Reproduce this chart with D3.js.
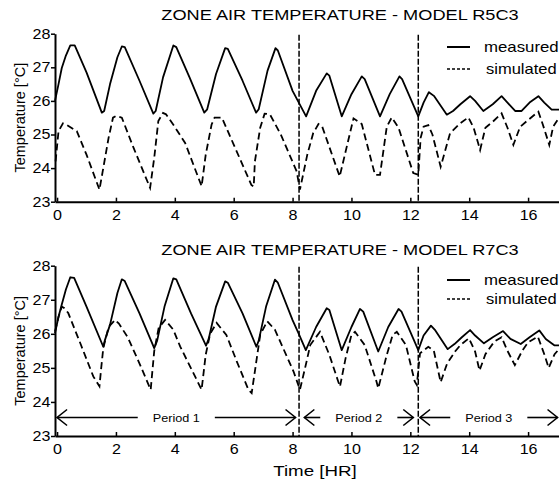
<!DOCTYPE html>
<html><head><meta charset="utf-8">
<script src="https://cdn.jsdelivr.net/npm/d3@7"></script>
<style>
html,body{margin:0;padding:0;background:#fff;}
svg{display:block;font-family:"Liberation Sans",Arial,sans-serif;}
</style></head>
<body>
<svg id="chart" width="559" height="481"></svg>
<script>
// ---------------- DATA ----------------
const xTicks = [0, 2, 4, 6, 8, 10, 12, 14, 16];
const yTicks = [23, 24, 25, 26, 27, 28];
const periodBoundaries = [8.22, 12.27];
const titles = ["ZONE AIR TEMPERATURE - MODEL R5C3", "ZONE AIR TEMPERATURE - MODEL R7C3"];
const seriesNames = ["measured", "simulated"];
const periodLabels = ["Period 1", "Period 2", "Period 3"];
const periodStart = [0.0, 8.4, 12.33];
const periodEnd = [8.1, 12.1, 17.0];

// [time (hr), temperature (°C)]
const r5c3Measured = [
 [-0.07,26.0],[0.05,26.5],[0.16,26.98],[0.3,27.35],[0.45,27.65],[0.6,27.65],[1.0,26.85],[1.52,25.65],
 [1.6,25.7],[1.8,26.5],[2.05,27.3],[2.2,27.62],[2.3,27.6],[2.8,26.6],[3.27,25.62],[3.35,25.7],
 [3.6,26.7],[3.95,27.65],[4.05,27.6],[4.5,26.7],[5.0,25.65],[5.1,25.75],[5.4,26.8],[5.71,27.57],
 [5.8,27.55],[6.3,26.6],[6.76,25.65],[6.85,25.75],[7.15,26.9],[7.42,27.57],[7.5,27.5],[8.0,26.3],
 [8.46,25.54],[8.8,26.3],[9.16,26.82],[9.25,26.75],[9.67,25.54],[10.0,26.2],[10.35,26.73],[10.45,26.65],
 [10.97,25.54],[11.3,26.2],[11.63,26.73],[11.72,26.65],[12.27,25.54],[12.45,25.95],[12.63,26.26],[12.8,26.15],
 [13.24,25.59],[13.45,25.7],[13.7,25.9],[14.03,26.14],[14.2,26.0],[14.48,25.7],[14.8,25.9],[15.1,26.14],
 [15.3,25.95],[15.56,25.7],[15.78,25.7],[16.05,25.95],[16.35,26.14],[16.55,25.95],[16.8,25.74],[17.05,25.74]
];
const r5c3Simulated = [
 [-0.05,24.2],[0.05,25.1],[0.2,25.33],[0.3,25.3],[0.67,25.1],[1.0,24.4],[1.44,23.36],[1.55,23.9],
 [1.75,24.9],[1.9,25.5],[2.0,25.55],[2.2,25.5],[2.6,24.6],[3.16,23.41],[3.3,24.3],[3.44,25.4],
 [3.6,25.64],[3.7,25.6],[3.95,25.29],[4.35,24.75],[4.91,23.46],[5.05,24.4],[5.25,25.3],[5.35,25.5],
 [5.6,25.5],[6.0,24.7],[6.6,23.5],[6.68,23.45],[6.72,24.2],[6.9,25.2],[7.05,25.62],[7.23,25.6],
 [7.6,25.0],[8.14,23.9],[8.25,23.36],[8.5,24.4],[8.7,25.04],[8.88,25.31],[9.0,25.25],[9.6,23.75],
 [9.95,25.04],[10.07,25.48],[10.35,25.31],[10.8,23.8],[10.97,23.8],[11.2,25.23],[11.37,25.51],[11.6,25.2],
 [12.1,23.85],[12.27,23.8],[12.35,24.9],[12.45,25.23],[12.61,25.28],[12.75,25.0],[13.03,24.04],[13.35,25.04],
 [13.69,25.33],[13.97,25.51],[14.15,25.2],[14.37,24.54],[14.55,25.2],[14.8,25.38],[15.1,25.63],[15.3,25.2],
 [15.5,24.69],[15.73,25.23],[16.0,25.43],[16.35,25.68],[16.5,25.3],[16.72,24.69],[16.85,25.23],[17.05,25.5]
];
const r7c3Measured = [
 [-0.07,26.02],[0.05,26.5],[0.16,26.86],[0.3,27.3],[0.45,27.66],[0.58,27.64],[1.0,26.8],[1.57,25.62],
 [1.62,25.8],[1.8,26.27],[2.05,27.2],[2.2,27.6],[2.3,27.55],[2.8,26.6],[3.3,25.58],[3.4,25.8],
 [3.65,26.8],[3.95,27.63],[4.05,27.6],[4.55,26.6],[5.06,25.65],[5.15,25.85],[5.4,26.8],[5.71,27.54],
 [5.8,27.5],[6.3,26.6],[6.77,25.62],[6.85,25.8],[7.1,26.8],[7.4,27.59],[7.5,27.5],[8.0,26.4],
 [8.2,26.02],[8.45,25.52],[8.8,26.2],[9.16,26.75],[9.25,26.7],[9.67,25.52],[10.0,26.2],[10.29,26.73],
 [10.4,26.65],[10.91,25.48],[11.25,26.2],[11.6,26.73],[11.7,26.65],[12.27,25.52],[12.45,25.95],[12.7,26.24],
 [12.85,26.1],[13.27,25.55],[13.5,25.7],[13.75,25.9],[14.03,26.11],[14.2,25.95],[14.5,25.72],[14.8,25.9],
 [15.15,26.08],[15.4,25.85],[15.75,25.7],[16.05,25.9],[16.38,26.1],[16.6,25.85],[16.9,25.66],[17.05,25.66]
];
const r7c3Simulated = [
 [-0.07,26.07],[0.05,26.5],[0.16,26.8],[0.25,26.75],[0.38,26.61],[0.8,25.7],[1.23,24.75],[1.44,24.46],
 [1.5,25.0],[1.57,25.58],[1.75,26.2],[1.97,26.41],[2.1,26.3],[2.4,25.9],[2.82,25.09],[3.18,24.36],
 [3.3,25.49],[3.45,26.17],[3.67,26.41],[3.95,26.12],[4.18,25.63],[4.6,24.9],[4.91,24.36],[5.05,25.39],
 [5.2,26.0],[5.42,26.32],[5.75,25.97],[6.1,25.2],[6.5,24.36],[6.61,24.26],[6.72,24.9],[6.9,25.97],
 [7.14,26.37],[7.4,26.12],[8.03,24.9],[8.25,24.36],[8.45,25.09],[8.6,25.67],[8.93,26.06],[9.25,25.38],
 [9.55,24.6],[9.61,24.45],[9.8,25.28],[10.0,25.97],[10.12,26.06],[10.45,25.67],[10.85,24.6],[10.91,24.4],
 [11.2,25.38],[11.4,25.97],[11.54,26.06],[11.85,25.67],[12.15,24.6],[12.22,24.5],[12.33,25.43],[12.61,25.62],
 [12.8,25.5],[13.03,24.58],[13.25,25.13],[13.52,25.48],[13.7,25.67],[13.99,25.87],[14.2,25.48],[14.35,24.92],
 [14.55,25.4],[14.85,25.77],[15.1,25.9],[15.3,25.5],[15.55,25.08],[15.8,25.5],[16.0,25.75],[16.33,25.92],
 [16.55,25.4],[16.7,25.0],[16.9,25.4],[17.05,25.55]
];

// ---------------- DRAW ----------------
const svg = d3.select("#chart");
const SX = 1.2; // horizontal stretch of the glyphs in the reference
const x = d3.scaleLinear().domain([-0.07, 17.05]).range([55, 559]);

const panels = [
  {title: titles[0], meas: r5c3Measured, sim: r5c3Simulated, top: 33.7, bottom: 201.7, titleY: 20, legY: [47, 69], periods: false},
  {title: titles[1], meas: r7c3Measured, sim: r7c3Simulated, top: 265.7, bottom: 436, titleY: 255, legY: [280, 299], periods: true}
];

function stext(g, px, py, s, size, anchor, sx) {
  return g.append("text")
    .attr("transform", `translate(${px},${py}) scale(${sx || SX},1)`)
    .attr("text-anchor", anchor || "start")
    .attr("font-size", size)
    .attr("fill", "#000")
    .text(s);
}

panels.forEach(p => {
  const y = d3.scaleLinear().domain([23, 28]).range([p.bottom, p.top]);
  const g = svg.append("g");

  // title
  stext(g, 340, p.titleY, p.title, 14, "middle", 1.3);

  // vertical period boundaries
  g.selectAll("line.vb").data(periodBoundaries).enter().append("line")
    .attr("x1", d => x(d)).attr("x2", d => x(d))
    .attr("y1", y(28) + 1).attr("y2", y(23))
    .attr("stroke", "#000").attr("stroke-width", 1.5).attr("stroke-dasharray", "6,2");

  const line = d3.line().x(d => x(d[0])).y(d => y(d[1]));
  g.append("path").datum(p.meas).attr("d", line)
    .attr("fill", "none").attr("stroke", "#000").attr("stroke-width", 1.8).attr("stroke-linejoin", "round");
  g.append("path").datum(p.sim).attr("d", line)
    .attr("fill", "none").attr("stroke", "#000").attr("stroke-width", 1.8).attr("stroke-dasharray", "7,4");

  // y axis
  const ya = g.append("g").attr("transform", `translate(${x.range()[0]},0)`)
    .call(d3.axisLeft(y).tickValues(yTicks).tickSizeInner(4).tickSizeOuter(0).tickPadding(1).tickFormat(d3.format("d")));
  ya.select(".domain").attr("stroke-width", 2);
  ya.selectAll(".tick line").attr("stroke-width", 1.5);
  ya.selectAll(".tick text").attr("font-size", 14).attr("font-family", "Liberation Sans, Arial, sans-serif")
    .attr("x", -4).attr("transform", "scale(1.15,1)");

  // x axis
  const xa = g.append("g").attr("transform", `translate(0,${p.bottom})`)
    .call(d3.axisBottom(x).tickValues(xTicks).tickSizeInner(-4).tickSizeOuter(0).tickPadding(8).tickFormat(d3.format("d")));
  xa.select(".domain").attr("stroke-width", 2);
  xa.selectAll(".tick line").attr("stroke-width", 1.5);
  xa.selectAll(".tick text").attr("font-size", 14).attr("font-family", "Liberation Sans, Arial, sans-serif")
    .attr("transform", "scale(1.15,1)");

  // y label
  g.append("text")
    .attr("transform", `translate(25,${(p.top + p.bottom) / 2}) rotate(-90)`)
    .attr("text-anchor", "middle").attr("font-size", 14.5).text("Temperature [°C]");

  // legend
  const lx0 = 447, lx1 = 470, tx = 484;
  g.append("line").attr("x1", lx0).attr("x2", lx1).attr("y1", p.legY[0]).attr("y2", p.legY[0])
    .attr("stroke", "#000").attr("stroke-width", 2);
  stext(g, tx, p.legY[0] + 5, seriesNames[0], 14, "start", 1.2);
  g.append("line").attr("x1", lx0).attr("x2", lx1).attr("y1", p.legY[1]).attr("y2", p.legY[1])
    .attr("stroke", "#000").attr("stroke-width", 1.6).attr("stroke-dasharray", "3,2");
  stext(g, tx + 2, p.legY[1] + 5, seriesNames[1], 14, "start", 1.18);

  // period arrows
  if (p.periods) {
    const ay = 417.5;
    periodLabels.forEach((lab, i) => {
      const a = x(periodStart[i]), b = x(periodEnd[i]);
      const mid = (a + b) / 2;
      const t = stext(g, mid, ay + 4, lab, 11, "middle", 1.15);
      const w = t.node().getComputedTextLength() * 1.15;
      const gap = w / 2 + 15;
      g.append("line").attr("x1", a).attr("x2", mid - gap).attr("y1", ay).attr("y2", ay)
        .attr("stroke", "#000").attr("stroke-width", 1.6);
      g.append("line").attr("x1", mid + gap).attr("x2", b).attr("y1", ay).attr("y2", ay)
        .attr("stroke", "#000").attr("stroke-width", 1.6);
      g.append("path").attr("d", `M${a + 10},${ay - 8}L${a},${ay}L${a + 10},${ay + 8}`)
        .attr("fill", "none").attr("stroke", "#000").attr("stroke-width", 1.6);
      g.append("path").attr("d", `M${b - 10},${ay - 8}L${b},${ay}L${b - 10},${ay + 8}`)
        .attr("fill", "none").attr("stroke", "#000").attr("stroke-width", 1.6);
    });
  }
});

// x axis title
stext(svg, 315, 476, "Time [HR]", 15, "middle", 1.25);
</script>
</body></html>
